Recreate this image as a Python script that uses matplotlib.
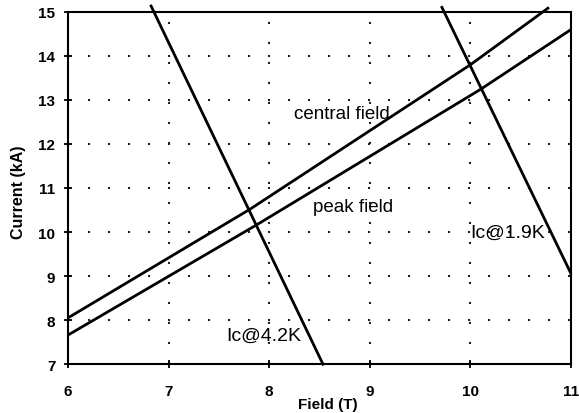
import matplotlib.pyplot as plt

plt.rcParams["font.family"] = ["Liberation Sans", "DejaVu Sans"]

# =========================
# data
# =========================
central_B = [6.0, 7.81, 10.0, 10.78]
central_I = [8.05, 10.52, 13.8, 15.1]

peak_B = [6.0, 7.88, 10.1, 11.0]
peak_I = [7.66, 10.17, 13.24, 14.6]

ic42_B = [6.82, 8.54]
ic42_I = [15.16, 6.97]

ic19_B = [9.71, 11.0]
ic19_I = [15.13, 9.05]

x_ticks = [6, 7, 8, 9, 10, 11]
y_ticks = [7, 8, 9, 10, 11, 12, 13, 14, 15]

fig = plt.figure(figsize=(5.79, 4.14), dpi=100)
ax = fig.add_axes([0.1174, 0.118, 0.869, 0.851])

# dotted grid
for x in x_ticks[1:-1]:
    ax.plot([x, x], [7, 15], color="#222222", lw=1.5,
            linestyle=(0, (1, 8.6)), zorder=1)
for y in y_ticks[1:-1]:
    ax.plot([6, 11], [y, y], color="#222222", lw=1.5,
            linestyle=(0, (1, 8.6)), zorder=1)

line_kw = dict(color="black", lw=2.0, solid_capstyle="butt", zorder=3)
ax.plot(central_B, central_I, clip_on=False, **line_kw)
ax.plot(peak_B, peak_I, **line_kw)
ax.plot(ic42_B, ic42_I, clip_on=False, **line_kw)
ax.plot(ic19_B, ic19_I, clip_on=False, **line_kw)

ax.text(8.72, 12.7, "central field", fontsize=13.5, ha="center", va="center")
ax.text(8.83, 10.58, "peak field", fontsize=13.5, ha="center", va="center")
ax.text(7.95, 7.66, "Ic@4.2K", fontsize=14, ha="center", va="center")
ax.text(10.37, 10.0, "Ic@1.9K", fontsize=14, ha="center", va="center")

ax.set_xlim(6, 11)
ax.set_ylim(7, 15)
ax.set_xticks(x_ticks)
ax.set_yticks(y_ticks)
ax.tick_params(direction="inout", length=6, width=1.3, labelsize=11)
ax.tick_params(axis="x", pad=11)
ax.tick_params(axis="y", pad=6)
for lab in ax.get_xticklabels() + ax.get_yticklabels():
    lab.set_fontweight("bold")

for sp in ax.spines.values():
    sp.set_linewidth(1.5)

ax.set_xlabel("Field (T)", fontsize=11, fontweight="bold")
ax.set_ylabel("Current (kA)", fontsize=11.5, fontweight="bold")
ax.xaxis.label.set_va("center")
ax.yaxis.label.set_va("center")
ax.xaxis.set_label_coords(0.517, -0.112)
ax.yaxis.set_label_coords(-0.099, 0.49)

plt.savefig("out.png", dpi=100)
plt.close(fig)
